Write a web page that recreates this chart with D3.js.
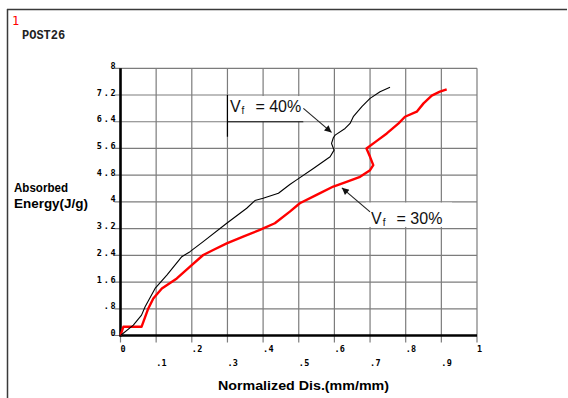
<!DOCTYPE html>
<html><head><meta charset="utf-8">
<script src="https://cdn.jsdelivr.net/npm/d3@7"></script>
<style>body{margin:0;background:#fff}svg{display:block}</style>
</head><body>
<script>
// ---- data ----
const xTicksRow1 = [0, 0.2, 0.4, 0.6, 0.8, 1];
const xTicksRow2 = [0.1, 0.3, 0.5, 0.7, 0.9];
const xTickLabels = {"0":"0","0.1":".1","0.2":".2","0.3":".3","0.4":".4","0.5":".5","0.6":".6","0.7":".7","0.8":".8","0.9":".9","1":"1"};
const yTicks = [0, 0.8, 1.6, 2.4, 3.2, 4, 4.8, 5.6, 6.4, 7.2, 8];
const yTickLabels = ["0", ".8", "1.6", "2.4", "3.2", "4", "4.8", "5.6", "6.4", "7.2", "8"];
const vf40x = [0, 0.036, 0.059, 0.069, 0.097, 0.13, 0.172, 0.195, 0.232, 0.298, 0.354, 0.377, 0.40, 0.443, 0.475, 0.494, 0.541, 0.588, 0.599, 0.592, 0.597, 0.602, 0.63, 0.644, 0.653, 0.677, 0.70, 0.728, 0.756];
const vf40y = [0, 0.31, 0.61, 0.86, 1.41, 1.81, 2.36, 2.51, 2.81, 3.36, 3.81, 4.04, 4.11, 4.26, 4.52, 4.66, 5.0, 5.35, 5.55, 5.75, 5.92, 6.0, 6.2, 6.35, 6.55, 6.85, 7.1, 7.3, 7.43];
const vf30x = [0, 0.008, 0.059, 0.078, 0.092, 0.116, 0.158, 0.195, 0.232, 0.26, 0.298, 0.344, 0.391, 0.433, 0.475, 0.503, 0.55, 0.597, 0.634, 0.672, 0.70, 0.709, 0.70, 0.69, 0.718, 0.747, 0.78, 0.798, 0.831, 0.85, 0.873, 0.896, 0.915];
const vf30y = [0, 0.26, 0.26, 0.81, 1.11, 1.41, 1.71, 2.06, 2.41, 2.56, 2.76, 2.96, 3.16, 3.36, 3.71, 3.96, 4.21, 4.46, 4.6, 4.75, 4.95, 5.1, 5.35, 5.6, 5.82, 6.05, 6.35, 6.55, 6.7, 6.95, 7.18, 7.3, 7.37];
const xTitle = "Normalized Dis.(mm/mm)";
const yTitle = ["Absorbed", "Energy(J/g)"];

const W = 568, H = 398;
const svg = d3.select("body").append("svg").attr("width", W).attr("height", H);

// frame
svg.append("line").attr("x1", 7).attr("x2", 567).attr("y1", 9.5).attr("y2", 9.5).attr("stroke", "#3a3a3a").attr("stroke-width", 1.5);
svg.append("line").attr("x1", 7.5).attr("x2", 7.5).attr("y1", 9).attr("y2", 398).attr("stroke", "#3a3a3a").attr("stroke-width", 1.5);
svg.append("text").attr("x", 12).attr("y", 25).attr("fill", "#ff0000").attr("font-family", "DejaVu Sans Mono").attr("font-size", 12).text("1");
svg.append("text").attr("x", 22).attr("y", 39).attr("fill", "#222").attr("font-family", "Liberation Mono").attr("font-size", 12).attr("font-weight", "bold").text("POST26");

const x = d3.scaleLinear().domain([0, 1]).range([120.5, 477]);
const y = d3.scaleLinear().domain([0, 8]).range([335.5, 68.3]);

const grid = svg.append("g").attr("stroke", "#7c7c7c").attr("stroke-width", 1.2);
grid.selectAll(".v").data(d3.range(0, 11).map(i => i / 10)).join("line")
  .attr("x1", d => x(d)).attr("x2", d => x(d)).attr("y1", y(8)).attr("y2", y(0) + 7);
grid.selectAll(".h").data(yTicks).join("line")
  .attr("x1", x(0) - 6).attr("x2", x(1)).attr("y1", d => y(d)).attr("y2", d => y(d));

// label boxes (white backgrounds)
svg.append("rect").attr("x", x(0.3)).attr("y", y(7.2) + 1).attr("width", x(0.513) - x(0.3)).attr("height", y(6.4) - y(7.2) - 1).attr("fill", "#fff");
svg.append("rect").attr("x", x(0.688)).attr("y", y(3.98)).attr("width", x(0.93) - x(0.688)).attr("height", y(3.25) - y(3.98)).attr("fill", "#fff");
svg.append("path").attr("d", `M${x(0.3)},${y(5.95)}V${y(7.2)}M${x(0.3)},${y(6.4)}H${x(0.513)}`).attr("stroke", "#000").attr("stroke-width", 1.2).attr("fill", "none");

// axes
svg.append("line").attr("x1", x(0)).attr("x2", x(0)).attr("y1", y(8)).attr("y2", y(0) + 1).attr("stroke", "#000").attr("stroke-width", 2.6);
svg.append("line").attr("x1", x(0) - 1).attr("x2", x(1)).attr("y1", y(0)).attr("y2", y(0)).attr("stroke", "#000").attr("stroke-width", 2.6);

// tick labels
const tickFont = "DejaVu Sans Mono";
svg.selectAll(".yl").data(yTicks).join("text")
  .attr("x", x(0) - 3).attr("y", d => y(d) + 0.5)
  .attr("text-anchor", "end").attr("font-family", tickFont).attr("font-size", 8.5).attr("font-weight", "bold")
  .attr("letter-spacing", 1.8).attr("fill", "#000")
  .text((d, i) => yTickLabels[i]);
svg.selectAll(".xl1").data(xTicksRow1).join("text")
  .attr("x", d => x(d)).attr("y", y(0) + 16.5)
  .attr("font-family", tickFont).attr("font-size", 8.5).attr("font-weight", "bold").attr("letter-spacing", 0.3).attr("fill", "#000")
  .text(d => xTickLabels[String(d)]);
svg.selectAll(".xl2").data(xTicksRow2).join("text")
  .attr("x", d => x(d)).attr("y", y(0) + 30.5)
  .attr("font-family", tickFont).attr("font-size", 8.5).attr("font-weight", "bold").attr("letter-spacing", 0.3).attr("fill", "#000")
  .text(d => xTickLabels[String(d)]);

// titles
svg.append("text").attr("x", 218).attr("y", 390).attr("font-family", "Liberation Sans").attr("font-weight", "bold").attr("font-size", 13.5)
  .attr("textLength", 171).attr("lengthAdjust", "spacingAndGlyphs").attr("fill", "#000").text(xTitle);
svg.append("text").attr("x", 14).attr("y", 192).attr("font-family", "Liberation Sans").attr("font-weight", "bold").attr("font-size", 13.5)
  .attr("textLength", 54).attr("lengthAdjust", "spacingAndGlyphs").attr("fill", "#000").text(yTitle[0]);
svg.append("text").attr("x", 14).attr("y", 208).attr("font-family", "Liberation Sans").attr("font-weight", "bold").attr("font-size", 13.5)
  .attr("textLength", 74).attr("lengthAdjust", "spacingAndGlyphs").attr("fill", "#000").text(yTitle[1]);

// curves
const line = d3.line().x(d => x(d[0])).y(d => y(d[1]));
svg.append("path").datum(d3.zip(vf30x, vf30y)).attr("d", line).attr("fill", "none").attr("stroke", "#ff0000").attr("stroke-width", 2.4).attr("stroke-linejoin", "round");
svg.append("path").datum(d3.zip(vf40x, vf40y)).attr("d", line).attr("fill", "none").attr("stroke", "#000").attr("stroke-width", 1.1).attr("stroke-linejoin", "round");

// annotations
function label(tx, ty, pct) {
  const t = svg.append("text").attr("x", x(tx)).attr("y", y(ty)).attr("font-family", "Liberation Sans").attr("font-size", 16).attr("fill", "#111");
  t.append("tspan").text("V");
  t.append("tspan").attr("font-size", 10).attr("dy", 2).attr("dx", 1).text("f");
  t.append("tspan").attr("dy", -2).attr("dx", 11).text("= " + pct);
}
label(0.307, 6.68, "40%");
label(0.703, 3.34, "30%");

const defs = svg.append("defs");
defs.append("marker").attr("id", "ah").attr("viewBox", "0 0 10 10").attr("refX", 10).attr("refY", 5)
  .attr("markerWidth", 9).attr("markerHeight", 7).attr("markerUnits", "userSpaceOnUse").attr("orient", "auto")
  .append("path").attr("d", "M0,0L10,5L0,10z").attr("fill", "#111");
function arrow(x1, y1, x2, y2) {
  svg.append("line").attr("x1", x(x1)).attr("y1", y(y1)).attr("x2", x(x2)).attr("y2", y(y2))
    .attr("stroke", "#222").attr("stroke-width", 1.1).attr("marker-end", "url(#ah)");
}
arrow(0.513, 6.80, 0.592, 6.08);
arrow(0.70, 3.70, 0.621, 4.42);
</script>
</body></html>
